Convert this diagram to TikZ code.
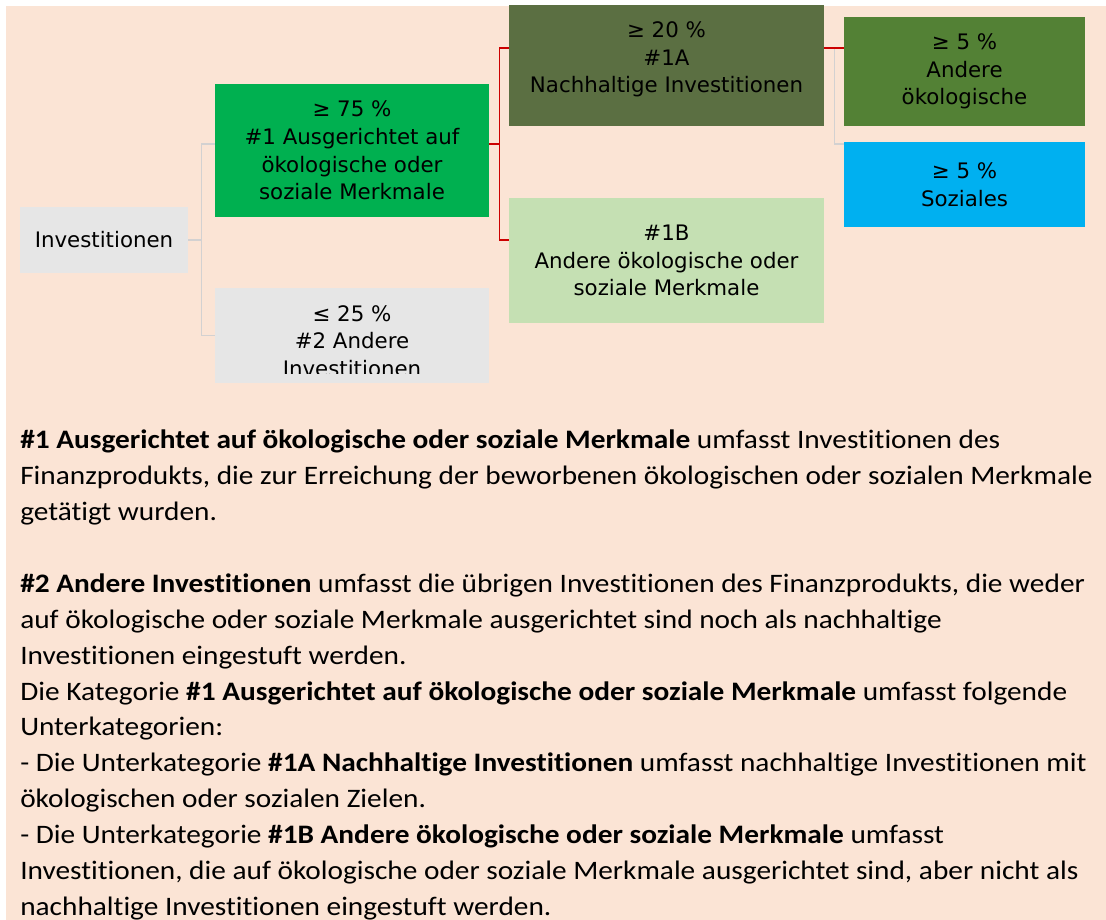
\documentclass[tikz,border=0pt]{standalone}
\usepackage{fontspec}
\setmainfont{Carlito}[Ligatures=NoCommon, FakeStretch=1.1]
\newfontfamily\boxfont{DejaVu Sans}
\definecolor{peach}{HTML}{FBE4D5}
\definecolor{boxgray}{HTML}{E6E6E6}
\definecolor{mainGreen}{HTML}{00B050}
\definecolor{oliveGreen}{HTML}{5B6F42}
\definecolor{leafGreen}{HTML}{538135}
\definecolor{paleGreen}{HTML}{C5E0B3}
\definecolor{skyBlue}{HTML}{00B0F0}
\definecolor{linkRed}{HTML}{CC0000}
\definecolor{linkGray}{HTML}{D3D1D1}
\tikzset{
  box/.style={inner sep=0pt, align=center, font=\boxfont\fontsize{16}{20.7}\selectfont},
  graylink/.style={draw=linkGray, line width=1.1pt},
  redlink/.style={draw=linkRed, line width=1.1pt}
}
\begin{document}
\begin{tikzpicture}[x=0.75pt,y=-0.75pt]
\fill[white] (0,0) rectangle (1106,920);
\useasboundingbox (0,0) rectangle (1106,920);
\fill[peach] (6,6) rectangle (1106,920);
\begin{scope}
\clip (6,6) rectangle (1106,920);
\node[box, fill=boxgray, minimum width=126pt, minimum height=49.5pt] (inv) at (104,240) {Investitionen};
\node[box, fill=mainGreen, minimum width=205.5pt, minimum height=99.75pt] (one) at (352,150.5)
  {≥ 75 \%\\\#1 Ausgerichtet auf\\ökologische oder\\soziale Merkmale};
\node[box, fill=boxgray, minimum width=205.5pt, minimum height=71.25pt] (two) at (352,335.5) {};
\begin{scope}
\clip (215,288) rectangle (489,373);
\node[box] (twotext) at (352,341) {≤ 25 \%\\\#2 Andere\\Investitionen};
\end{scope}
\node[box, fill=oliveGreen, minimum width=236.25pt, minimum height=99.75pt] (oneA) at (666.5,59.5)
  {≥ 20 \%\\\#1A\\Nachhaltige Investitionen};
\node[box, fill=paleGreen, minimum width=236.25pt, minimum height=93.75pt] (oneB) at (666.5,260.5)
  {\#1B\\Andere ökologische oder\\soziale Merkmale};
\node[box, fill=leafGreen, minimum width=180.75pt, minimum height=81.75pt] (eco) at (964.5,71.5)
  {≥ 5 \%\\Andere\\ökologische};
\node[box, fill=skyBlue, minimum width=180.75pt, minimum height=63.75pt] (soc) at (964.5,184.5)
  {≥ 5 \%\\Soziales};
\end{scope}
\draw[graylink] (inv.east) -- ++(13,0) |- ([yshift=4.9pt]one.west);
\draw[graylink] (inv.east) -- ++(13,0) |- (two.west);
\draw[redlink] ([yshift=4.9pt]one.east) -- ++(10,0) |- ([yshift=8.6pt]oneA.west);
\draw[redlink] ([yshift=4.9pt]one.east) -- ++(10,0) |- ([yshift=15.4pt]oneB.west);
\draw[graylink] ([yshift=8.6pt]oneA.east) -- ++(10,0) |- ([yshift=30.4pt]soc.west);
\draw[redlink] ([yshift=8.6pt]oneA.east) -- ([yshift=17.6pt]eco.west);
\node[anchor=north west, align=left, inner sep=0pt, font=\fontsize{20}{26.9}\selectfont] (notes) at (20,430)
  {\textbf{\#1 Ausgerichtet auf ökologische oder soziale Merkmale} umfasst Investitionen des\\
   Finanzprodukts, die zur Erreichung der beworbenen ökologischen oder sozialen Merkmale\\
   getätigt wurden.\\[26.9pt]
   \textbf{\#2 Andere Investitionen} umfasst die übrigen Investitionen des Finanzprodukts, die weder\\
   auf ökologische oder soziale Merkmale ausgerichtet sind noch als nachhaltige\\
   Investitionen eingestuft werden.\\
   Die Kategorie \textbf{\#1 Ausgerichtet auf ökologische oder soziale Merkmale} umfasst folgende\\
   Unterkategorien:\\
   - Die Unterkategorie \textbf{\#1A Nachhaltige Investitionen} umfasst nachhaltige Investitionen mit\\
   ökologischen oder sozialen Zielen.\\
   - Die Unterkategorie \textbf{\#1B Andere ökologische oder soziale Merkmale} umfasst\\
   Investitionen, die auf ökologische oder soziale Merkmale ausgerichtet sind, aber nicht als\\
   nachhaltige Investitionen eingestuft werden.};
\end{tikzpicture}
\end{document}
